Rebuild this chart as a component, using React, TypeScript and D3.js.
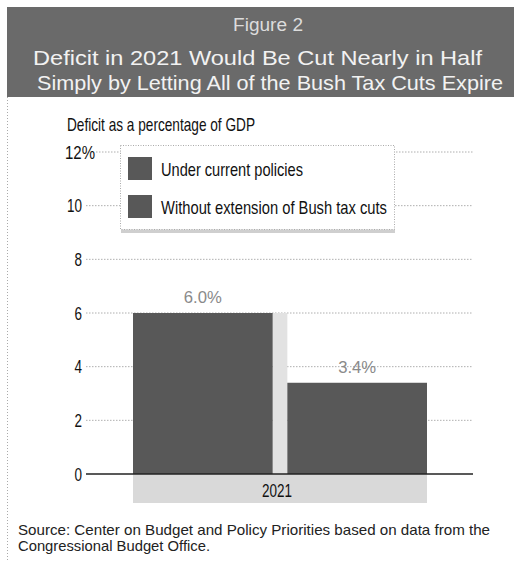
import React from "react";
import * as d3 from "d3";

const categories = ["2021"];
const seriesNames = ["Under current policies", "Without extension of Bush tax cuts"];
const seriesValues = [6.0, 3.4];
const valueLabels = ["6.0%", "3.4%"];
const yTicks = [0, 2, 4, 6, 8, 10, 12];
const yTickLabels = ["0", "2", "4", "6", "8", "10", "12%"];

const W = 518;
const H = 561;
const COND = "'Liberation Sans', Arial, sans-serif";
const SANS = "'Liberation Sans', Arial, sans-serif";
const BAR = "#585858";
const CS = 18.5;

export default function App() {
  const y = d3.scaleLinear().domain([0, 12]).range([474, 152]);
  const xOuter = d3.scaleBand().domain(categories).range([133, 427]).padding(0);
  const xInner = d3
    .scaleBand()
    .domain(seriesNames)
    .range([0, xOuter.bandwidth()])
    .paddingInner(0.095)
    .paddingOuter(0);
  const gridRight = 473;

  return (
    <svg width={W} height={H} style={{ position: "absolute", left: 0, top: 0, background: "#fff" }}>
      <rect x={0} y={0} width={W} height={H} fill="#fff" />
      {/* left frame dotted line */}
      <line x1={7.5} x2={7.5} y1={97} y2={H} stroke="#aaa" strokeDasharray="1 2" />
      {/* header */}
      <rect x={7} y={7} width={507} height={90} fill="#6a6a6a" />
      <text x={268} y={31} textAnchor="middle" fontFamily={SANS} fontSize={17.5} fill="#dcdcdc" textLength={70} lengthAdjust="spacingAndGlyphs">
        Figure 2
      </text>
      <text x={257.5} y={65} textAnchor="middle" fontFamily={SANS} fontSize={21} fill="#f2f2f2" textLength={449} lengthAdjust="spacingAndGlyphs">
        Deficit in 2021 Would Be Cut Nearly in Half
      </text>
      <text x={270} y={90} textAnchor="middle" fontFamily={SANS} fontSize={21} fill="#f2f2f2" textLength={466} lengthAdjust="spacingAndGlyphs">
        Simply by Letting All of the Bush Tax Cuts Expire
      </text>

      {/* y axis title */}
      <text x={67} y={131} fontFamily={COND} fontSize={CS} fill="#111" textLength={188} lengthAdjust="spacingAndGlyphs">
        Deficit as a percentage of GDP
      </text>

      {/* gridlines and tick labels */}
      {yTicks.map((t, i) => {
        const lab = yTickLabels[i];
        const isPct = lab.endsWith("%");
        return (
          <g key={t}>
            {t !== 0 && (
              <line
                x1={isPct ? 96 : 86}
                x2={gridRight}
                y1={y(t)}
                y2={y(t)}
                stroke="#9a9a9a"
                strokeWidth={0.8}
                strokeDasharray="1.5 1.5"
              />
            )}
            <text
              x={isPct ? 65 : 82}
              y={y(t) + 6.5}
              textAnchor={isPct ? "start" : "end"}
              fontFamily={COND}
              fontSize={CS}
              fill="#111"
              textLength={isPct ? 30 : lab.length * 7.5}
              lengthAdjust="spacingAndGlyphs"
            >
              {lab}
            </text>
          </g>
        );
      })}

      {/* category band below axis */}
      {categories.map((c) => (
        <g key={c}>
          <rect x={xOuter(c)!} y={y(0)} width={xOuter.bandwidth()} height={29} fill="#d9d9d9" />
          <text
            x={xOuter(c)! + xOuter.bandwidth() / 2 - 3}
            y={y(0) + 23}
            textAnchor="middle"
            fontFamily={COND}
            fontSize={CS}
            fill="#111"
            textLength={30}
            lengthAdjust="spacingAndGlyphs"
          >
            {c}
          </text>
          {/* light gap between bars */}
          <rect
            x={xOuter(c)! + xInner(seriesNames[0])! + xInner.bandwidth()}
            y={y(seriesValues[0])}
            width={xInner.step() - xInner.bandwidth()}
            height={y(0) - y(seriesValues[0])}
            fill="#e2e2e2"
          />
          {seriesNames.map((s, i) => {
            const bx = xOuter(c)! + xInner(s)!;
            return (
              <g key={s}>
                <rect
                  x={bx}
                  y={y(seriesValues[i])}
                  width={xInner.bandwidth()}
                  height={y(0) - y(seriesValues[i])}
                  fill={BAR}
                />
                <text
                  x={bx + xInner.bandwidth() / 2}
                  y={y(seriesValues[i]) - 10}
                  textAnchor="middle"
                  fontFamily={COND}
                  fontSize={17}
                  fill="#8a8a8a"
                  textLength={38}
                  lengthAdjust="spacingAndGlyphs"
                >
                  {valueLabels[i]}
                </text>
              </g>
            );
          })}
        </g>
      ))}

      {/* zero axis */}
      <line x1={86} x2={gridRight} y1={y(0)} y2={y(0)} stroke="#222" strokeWidth={1.6} />

      {/* legend */}
      <rect x={121} y={228} width={274} height={5} fill="#cfcfcf" />
      <rect x={120.5} y={145.5} width={274} height={84} fill="#fff" stroke="#aaa" strokeDasharray="1 1.5" />
      {seriesNames.map((s, i) => (
        <g key={s}>
          <rect x={128} y={157 + i * 38} width={24} height={23} fill={BAR} />
          <text
            x={161}
            y={176 + i * 38}
            fontFamily={COND}
            fontSize={CS}
            fill="#111"
            textLength={i === 0 ? 142 : 226}
            lengthAdjust="spacingAndGlyphs"
          >
            {s}
          </text>
        </g>
      ))}

      {/* source */}
      <text x={18} y={535} fontFamily={SANS} fontSize={14.5} fill="#222" textLength={472} lengthAdjust="spacingAndGlyphs">
        Source: Center on Budget and Policy Priorities based on data from the
      </text>
      <text x={18} y={551} fontFamily={SANS} fontSize={14.5} fill="#222" textLength={192} lengthAdjust="spacingAndGlyphs">
        Congressional Budget Office.
      </text>
    </svg>
  );
}
